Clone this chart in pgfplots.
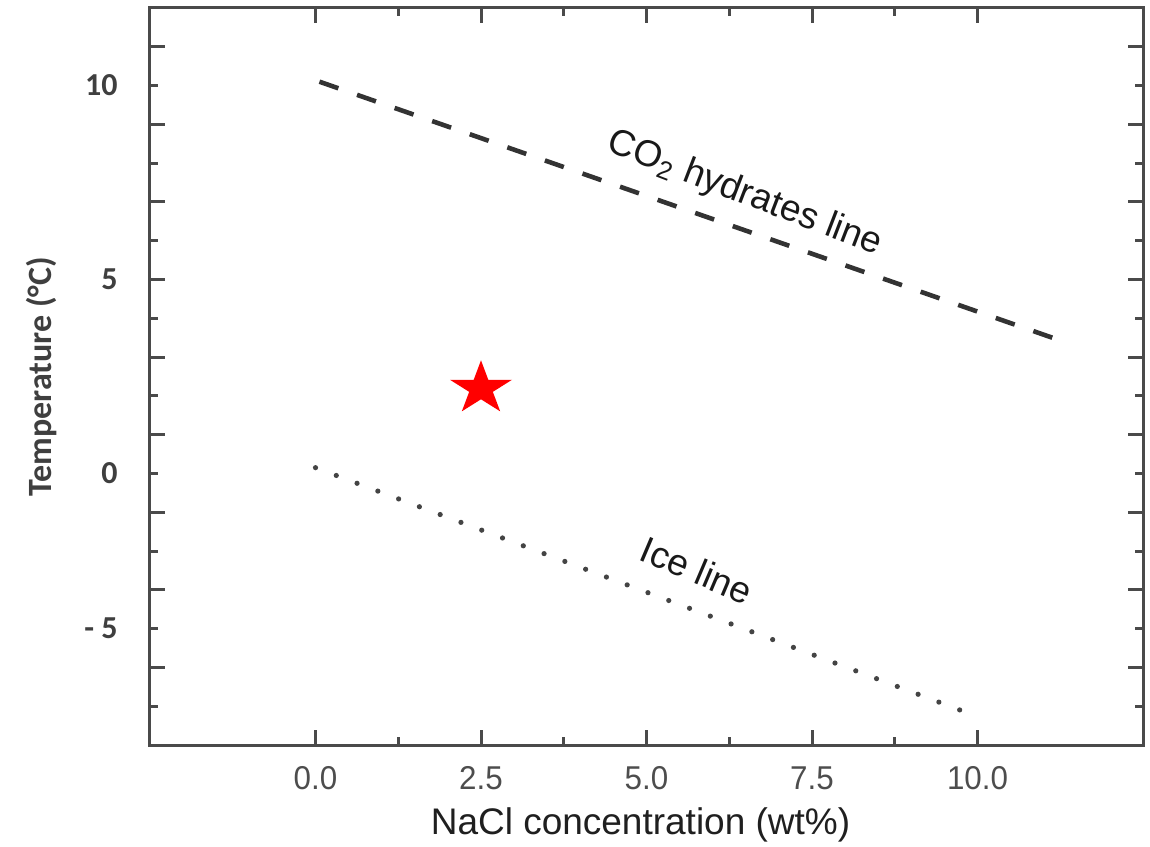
\documentclass[border=0pt]{standalone}
\usepackage{fontspec}
\setmainfont{Liberation Sans}
\newfontfamily\calibri{Carlito}
\usepackage{pgfplots}
\pgfplotsset{compat=1.18}
\definecolor{axgray}{HTML}{4A4A4A}
\definecolor{ytickgray}{HTML}{3F3F3F}
\definecolor{xtickgray}{HTML}{4D4D4D}
\definecolor{linegray}{HTML}{333333}
\definecolor{dotgray}{HTML}{444444}
\pgfdeclareplotmark{fstar}{%
  \pgfpathmoveto{\pgfpoint{0pt}{14.1pt}}%
  \pgfpathlineto{\pgfpoint{-3.66pt}{4.36pt}}%
  \pgfpathlineto{\pgfpoint{-15.5pt}{4.36pt}}%
  \pgfpathlineto{\pgfpoint{-5.92pt}{-1.66pt}}%
  \pgfpathlineto{\pgfpoint{-9.58pt}{-11.4pt}}%
  \pgfpathlineto{\pgfpoint{0pt}{-5.39pt}}%
  \pgfpathlineto{\pgfpoint{9.58pt}{-11.4pt}}%
  \pgfpathlineto{\pgfpoint{5.92pt}{-1.66pt}}%
  \pgfpathlineto{\pgfpoint{15.5pt}{4.36pt}}%
  \pgfpathlineto{\pgfpoint{3.66pt}{4.36pt}}%
  \pgfpathclose
  \pgfusepathqfill}
\begin{document}
\begin{tikzpicture}
\useasboundingbox (-75pt,-50.5pt) rectangle (500pt,372.5pt);
\begin{axis}[
  scale only axis, width=496.5pt, height=368.5pt,
  xmin=-2.5, xmax=12.5, ymin=-7, ymax=12,
  axis line style={axgray, line width=1.5pt},
  xtick={0,2.5,5,7.5,10}, xticklabels={0.0,2.5,5.0,7.5,10.0},
  minor xtick={1.25,3.75,6.25,8.75},
  ytick={-5,-3,...,11}, yticklabels={},
  minor ytick={-6,-4,...,10},
  extra y ticks={-4,0,5,10}, extra y tick labels={- 5,0,5,10},
  extra y tick style={major tick length=0pt},
  tick align=inside,
  major tick length=7.5pt, minor tick length=4pt,
  every tick/.style={axgray, line width=1.5pt},
  xticklabel style={font=\fontsize{16.5}{19}\selectfont, text=xtickgray, xscale=0.95, anchor=center, inner sep=0pt, yshift=-16.5pt},
  yticklabel style={font=\calibri\bfseries\fontsize{16}{19}\selectfont, text=ytickgray, anchor=east, inner sep=0pt, xshift=-16pt},
  xlabel={NaCl concentration (wt\%)},
  xlabel style={at={(axis description cs:0.494,0)}, anchor=center, yshift=-40pt, font=\fontsize{18.5}{22}\selectfont, text=black!88},
  ylabel={Temperature (°C)},
  ylabel style={at={(axis description cs:-0.109,0.5)}, anchor=center, font=\calibri\bfseries\fontsize{17}{20}\selectfont, text=ytickgray},
  clip=false,
]
\addplot[linegray, line width=2.3pt, dash pattern=on 10pt off 9.9pt] coordinates {(0.06,10.1) (11.13,3.5)};
\addplot[dotgray, line width=2.6pt, line cap=round, dash pattern=on 0pt off 11.1pt] coordinates {(0,0.15) (9.8,-6.14)};
\addplot[only marks, mark=fstar, red] coordinates {(2.5,2.19)};
\node[rotate=-21, font=\fontsize{18.5}{22}\selectfont, text=black!90] at (axis cs:6.48,7.2) {CO\textsubscript{2} hydrates line};
\node[rotate=-23, font=\fontsize{18.5}{22}\selectfont, text=black!90] at (axis cs:5.76,-2.49) {Ice line};
\end{axis}
\end{tikzpicture}
\end{document}
